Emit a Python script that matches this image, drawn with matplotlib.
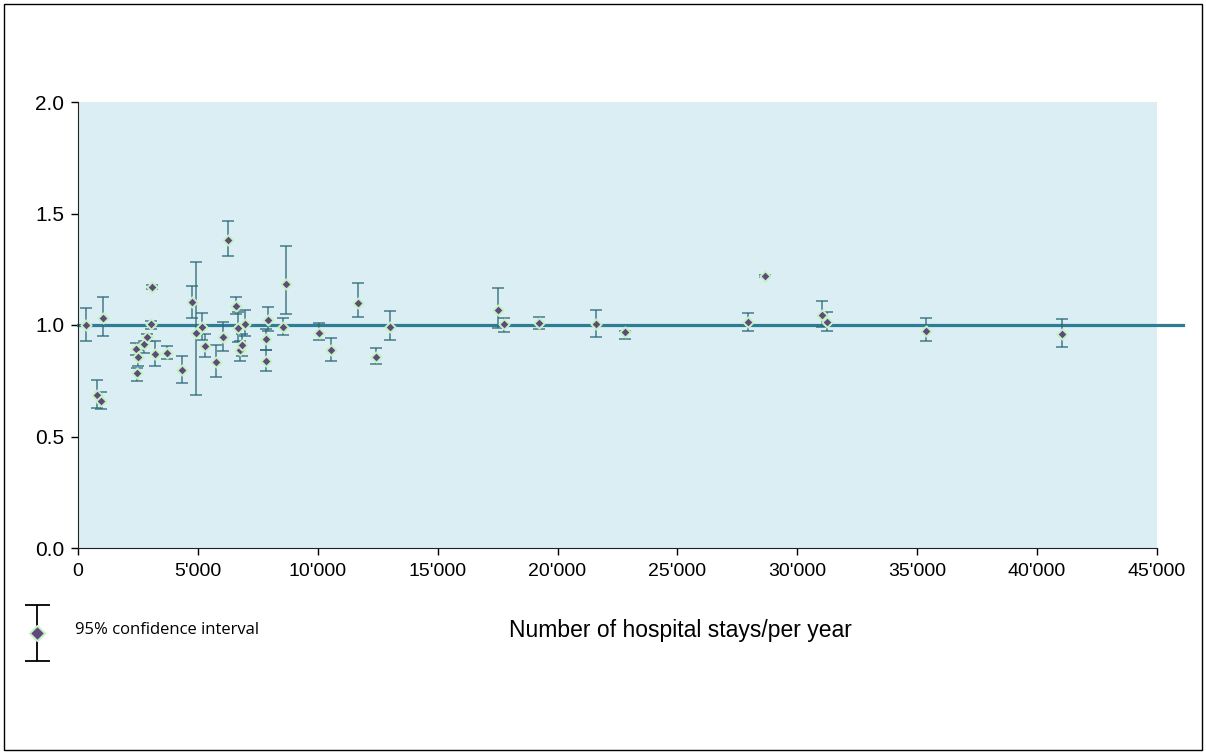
import numpy as np
import matplotlib.pyplot as plt
from matplotlib.patches import Rectangle
from matplotlib.ticker import FuncFormatter

# Hospital stays per year, ratio and 95% CI bounds
stays = [333, 780, 946, 1030, 2419, 2488, 2470, 2752, 2877, 3030, 3086, 3225,
         3711, 4350, 4740, 4934, 5171, 5310, 5755, 6034, 6255, 6576, 6686,
         6769, 6852, 6964, 7840, 7855, 7910, 8562, 8674, 10050, 10550, 11690,
         12413, 13025, 17500, 17752, 19211, 21589, 22811, 27954, 28649, 31026,
         31248, 35363, 41021]
ratio = [1.00, 0.686, 0.661, 1.031, 0.891, 0.858, 0.783, 0.913, 0.948, 1.006,
         1.170, 0.870, 0.876, 0.798, 1.102, 0.966, 0.993, 0.904, 0.834, 0.945,
         1.380, 1.084, 0.985, 0.888, 0.909, 1.003, 0.837, 0.936, 1.022, 0.991,
         1.182, 0.966, 0.886, 1.100, 0.858, 0.991, 1.067, 1.003, 1.008, 1.004,
         0.969, 1.012, 1.220, 1.043, 1.015, 0.973, 0.961]
ci_low = [0.927, 0.626, 0.622, 0.951, 0.865, 0.816, 0.750, 0.876, 0.930, 0.980,
          1.162, 0.816, 0.849, 0.741, 1.033, 0.685, 0.933, 0.858, 0.767, 0.885,
          1.309, 1.050, 0.922, 0.840, 0.860, 0.951, 0.795, 0.886, 0.972, 0.955,
          1.049, 0.931, 0.840, 1.037, 0.824, 0.931, 0.988, 0.969, 0.981, 0.946,
          0.937, 0.972, 1.215, 0.990, 0.972, 0.927, 0.901]
ci_high = [1.078, 0.753, 0.700, 1.127, 0.918, 0.890, 0.808, 0.930, 0.958, 1.020,
           1.178, 0.927, 0.907, 0.861, 1.175, 1.283, 1.055, 0.960, 0.910, 1.013,
           1.465, 1.124, 1.058, 0.930, 0.960, 1.066, 0.888, 0.980, 1.082, 1.030,
           1.354, 1.009, 0.940, 1.187, 0.898, 1.061, 1.164, 1.030, 1.037, 1.066,
           0.975, 1.055, 1.225, 1.108, 1.058, 1.030, 1.026]

ratio = np.array(ratio)
yerr = [ratio - np.array(ci_low), np.array(ci_high) - ratio]

plt.rcParams['font.family'] = ['Liberation Sans', 'DejaVu Sans']

fig = plt.figure(figsize=(12.06, 7.54), dpi=100)
ax = fig.add_axes([78 / 1206, 1 - 548 / 754, 1079 / 1206, 446 / 754])
ax.set_facecolor('#dbeef3')

# reference line at 1.0 (runs a bit past the plot area)
ax.plot([0, 46100], [1, 1], color='#2e7d95', lw=2.3, clip_on=False, zorder=2)

ax.errorbar(stays, ratio, yerr=yerr, fmt='none', ecolor='#2c6678', elinewidth=1.1,
            capsize=4, capthick=1.1, alpha=0.85, zorder=3)
ax.scatter(stays, ratio, marker='D', s=28, color='#604a7b', edgecolors='#c4f2c4',
           linewidths=1.4, zorder=4)

ax.set_xlim(0, 45000)
ax.set_ylim(0, 2.0)
ax.set_xticks(np.arange(0, 45001, 5000))
ax.set_yticks([0, 0.5, 1.0, 1.5, 2.0])
ax.xaxis.set_major_formatter(FuncFormatter(lambda v, p: f"{int(v):,}".replace(',', "'")))
ax.yaxis.set_major_formatter(FuncFormatter(lambda v, p: f"{v:.1f}"))
ax.tick_params(axis='x', labelsize=14, length=5, direction='out', width=1, pad=6)
ax.tick_params(axis='y', labelsize=15, length=5, direction='out', width=1, pad=5)
for s in ['top', 'right']:
    ax.spines[s].set_visible(False)
for s in ['left', 'bottom']:
    ax.spines[s].set_color('#222222')

fig.text(680 / 1206, 1 - 630 / 754, 'Number of hospital stays/per year', ha='center',
         va='center', fontsize=16.5)

# legend symbol for the confidence interval
lax = fig.add_axes([22 / 1206, 1 - 664 / 754, 30 / 1206, 62 / 754])
lax.set_xlim(-1, 1)
lax.set_ylim(-1.1, 1.1)
lax.axis('off')
lax.errorbar([0], [0], yerr=[[1.0], [1.0]], fmt='none', ecolor='black', elinewidth=1.3,
             capsize=9, capthick=1.3)
lax.scatter([0], [0], marker='D', s=60, color='#604a7b', edgecolors='#c4f2c4',
            linewidths=1.4, zorder=3)
fig.text(75 / 1206, 1 - 630 / 754, '95% confidence interval', ha='left', va='center',
         fontsize=12, family=['Open Sans', 'DejaVu Sans'])

# outer frame
fig.patches.append(Rectangle((4 / 1206, 4 / 754), 1198 / 1206, 746 / 754,
                             transform=fig.transFigure, fill=False, edgecolor='black', lw=1))

fig.savefig('out.png', dpi=100)
